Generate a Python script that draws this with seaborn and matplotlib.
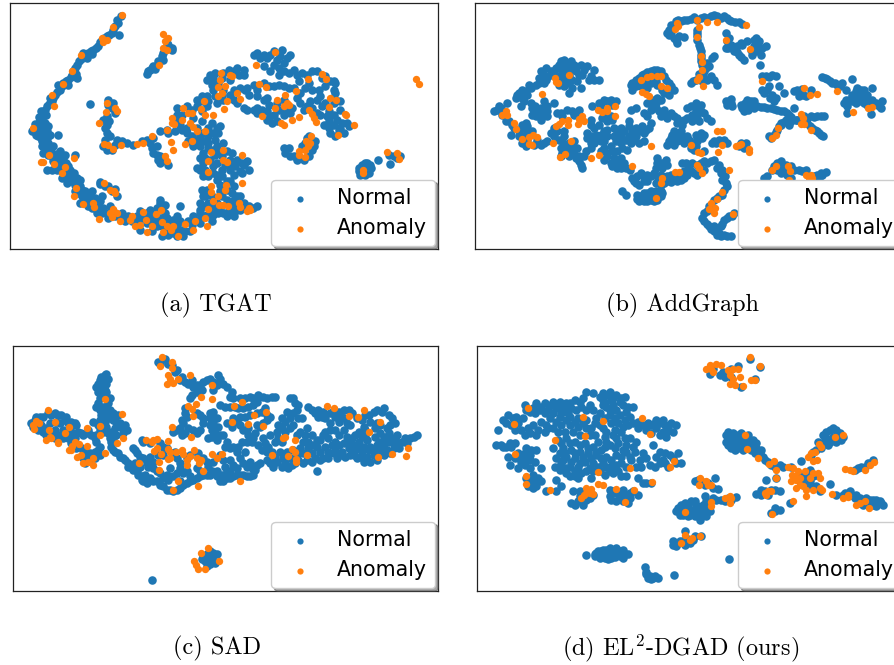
import matplotlib
matplotlib.use("Agg")
import matplotlib.pyplot as plt
import seaborn as sns
import numpy as np

# values, x/y on the 3x crop scale of every panel
tgat_normal = [(362,48),(352,62),(345,80),(358,105),(335,100),(320,110),(305,120),(295,138),(280,150),(265,160),(250,172),(238,185),(225,205),(215,225),(230,235),(205,240),(190,250),(180,270),(165,285),(155,305),(140,320),(130,340),(125,355),(118,370),(105,385),(95,395),(110,400),(125,385),(135,370),(130,405),(115,410),(125,425),(140,415),(175,405),(135,440),(150,450),(145,465),(165,470),(180,455),(225,465),(160,485),(175,495),(190,480),(205,500),(140,510),(195,520),(210,530),(185,535),(200,550),(220,545),(240,560),(235,580),(255,575),(270,590),(250,605),(265,620),(285,595),(300,605),(310,625),(290,640),(320,640),(345,650),(365,640),(385,650),(410,650),(420,635),(440,640),(460,650),(480,655),(500,655),(520,660),(540,665),(440,670),(470,680),(500,695),(520,700),(550,710),(545,690),(575,675),(590,660),(610,650),(630,640),(650,630),(670,640),(700,650),(720,630),(745,620),(770,620),(480,600),(495,615),(470,625),(450,630),(540,620),(300,548),(325,560),(345,568),(350,590),(600,630),(600,610),(605,570),(615,590),(635,590),(650,610),(680,600),(700,600),(720,590),(680,570),(700,560),(680,545),(650,540),(625,530),(600,510),(610,490),(640,500),(665,510),(690,510),(720,515),(745,510),(740,485),(710,480),(695,460),(665,470),(645,465),(610,460),(600,440),(625,430),(650,440),(670,430),(590,420),(610,400),(640,400),(660,380),(635,370),(605,365),(545,390),(560,400),(500,390),(480,395),(530,345),(560,320),(590,320),(620,320),(650,310),(670,300),(640,270),(670,270),(700,270),(720,265),(740,265),(760,255),(790,250),(820,260),(850,260),(880,265),(900,280),(915,265),(935,270),(955,270),(975,260),(1005,250),(620,240),(640,235),(670,220),(700,215),(730,210),(770,160),(790,165),(810,165),(845,150),(870,165),(820,195),(850,190),(850,215),(880,210),(905,220),(935,215),(975,230),(1000,245),(790,200),(710,310),(740,330),(770,325),(800,335),(820,345),(850,345),(815,370),(790,300),(850,300),(875,325),(920,320),(950,300),(965,320),(950,340),(980,350),(1005,280),(1000,310),(1020,330),(1010,360),(1045,380),(985,385),(1015,390),(1005,410),(1025,370),(850,445),(870,470),(890,480),(910,480),(935,450),(945,425),(920,415),(325,300),(340,310),(270,313),(320,350),(320,375),(320,400),(315,420),(350,420),(380,430),(320,450),(440,420),(460,415),(455,445),(470,465),(490,480),(505,495),(1093,490),(1075,505),(1093,508),(1112,505),(1093,525),(1133,482),(1170,493),(1200,470),(1165,465),(1180,470),(445,215),(460,200),(475,192),(490,160),(515,145),(500,130)]
tgat_normal_more = [(355,70),(340,92),(328,105),(312,115),(300,128),(288,145),(272,155),(258,165),(244,178),(232,195),(220,215),(228,222),(212,232),(198,245),(185,260),(172,278),(160,295),(148,312),(135,330),(127,348),(138,345),(120,362),(112,378),(100,390),(118,392),(128,398),(140,395),(108,405),(122,415),(133,428),(145,430),(142,452),(155,460),(158,475),(172,480),(170,462),(185,470),(183,500),(198,490),(210,510),(198,535),(210,545),(225,555),(230,535),(245,570),(262,585),(245,590),(258,598),(275,605),(275,625),(305,590),(295,622),(305,640),(325,655),(340,635),(355,645),(372,655),(395,665),(415,665),(430,655),(450,665),(465,670),(485,680),(510,685),(530,690),(530,675),(555,695),(490,665),(510,670),(470,655),(450,645),(495,640),(485,625),(480,610),(530,710),(505,705),(565,665),(580,650),(600,640),(620,645),(640,645),(655,640),(685,630),(705,635),(735,625),(758,625),(610,620),(625,610),(640,620),(660,625),(690,615),(705,615),(730,610),(610,590),(665,590),(695,580),(710,590),(660,575),(690,545),(665,530),(640,520),(615,510),(610,530),(590,505),(630,480),(650,490),(675,495),(705,500),(730,495),(725,520),(650,525),(600,475),(615,475),(640,450),(655,455),(680,455),(690,480),(625,445),(610,425),(600,405),(625,410),(645,420),(655,400),(625,385),(650,385),(575,410),(560,385),(540,375),(525,395),(505,400),(530,360),(545,345),(575,330),(605,335),(625,305),(645,290),(665,285),(690,285),(620,290),(610,305),(635,255),(655,250),(690,240),(715,225),(730,225),(645,220),(685,210),(710,205),(760,165),(780,175),(800,175),(820,155),(840,170),(860,175),(830,180),(835,205),(865,220),(890,225),(920,225),(950,215),(965,235),(990,245),(925,250),(895,245),(700,300),(735,270),(770,270),(805,260),(835,255),(865,265),(730,325),(760,330),(785,330),(810,350),(835,330),(800,360),(830,365),(855,335),(870,340),(890,295),(900,310),(910,330),(930,305),(960,290),(975,310),(935,325),(985,335),(1000,345),(985,365),(1000,375),(970,375),(1020,385),(1040,370),(990,400),(1000,295),(1020,305),(855,460),(865,445),(880,470),(900,475),(925,470),(930,435),(940,440),(905,440),(915,430),(925,408),(325,315),(335,325),(345,340),(310,360),(328,365),(315,385),(330,410),(345,435),(365,425),(310,440),(335,450),(400,435),(425,425),(450,430),(470,440),(460,460),(480,470),(480,490),(475,480),(300,552),(315,558),(335,575),(1100,490),(1085,495),(1075,515),(1105,520),(1080,525),(1110,495),(1190,475),(455,205),(440,222),(450,212),(465,208),(475,185),(488,180),(505,135),(515,150),(485,170)]
tgat_normal_thin = [(275,162),(262,175),(248,160),(205,255),(175,255),(150,295),(122,335),(118,352),(105,372),(145,378),(150,405),(125,440),(160,440),(130,460),(195,465),(170,510),(155,510),(222,520),(185,515),(240,540),(225,575),(275,575),(240,610),(285,625),(330,620),(375,665),(420,690),(455,695),(485,710),(530,650),(570,695),(600,670),(635,665),(680,650),(620,570),(660,555),(700,525),(725,490),(685,490),(580,440),(565,425),(590,385),(580,355),(530,325),(590,300),(605,290),(630,225),(665,235),(745,285),(770,290),(800,295),(835,225),(810,215),(770,340),(830,310),(805,315),(1000,270),(960,345),(1030,400)]
tgat_anomaly = [(365,46),(340,82),(320,122),(306,115),(310,128),(242,166),(217,213),(188,253),(157,285),(162,320),(100,385),(147,467),(122,487),(128,488),(163,492),(195,502),(187,520),(221,476),(228,566),(222,588),(248,614),(280,610),(282,622),(298,657),(330,640),(340,628),(350,640),(335,652),(360,665),(395,650),(390,660),(405,678),(420,675),(428,638),(437,660),(440,697),(455,680),(468,642),(484,630),(485,668),(500,680),(490,697),(520,680),(512,692),(535,708),(555,672),(585,665),(578,690),(615,655),(625,628),(622,678),(495,468),(500,485),(312,550),(330,572),(345,580),(342,573),(312,433),(325,435),(340,447),(362,436),(410,434),(430,430),(457,410),(512,428),(520,450),(555,433),(575,425),(500,390),(515,370),(522,372),(515,355),(545,362),(550,325),(565,340),(577,340),(603,327),(612,303),(615,345),(640,345),(570,370),(578,382),(590,395),(615,395),(322,310),(345,325),(350,333),(318,338),(298,370),(663,220),(660,240),(690,225),(696,228),(675,260),(655,262),(665,280),(655,290),(680,303),(672,327),(710,280),(718,297),(775,253),(797,263),(767,197),(825,156),(887,275),(855,285),(830,300),(860,310),(825,325),(850,318),(865,315),(785,348),(843,370),(850,375),(875,360),(897,353),(925,330),(935,342),(942,355),(947,367),(985,322),(988,295),(1007,300),(1033,343),(1037,345),(1060,375),(1013,407),(923,238),(965,222),(977,237),(932,410),(918,425),(930,430),(922,440),(915,452),(897,455),(895,465),(915,472),(725,467),(633,457),(625,485),(668,450),(670,480),(680,487),(623,518),(632,558),(633,578),(640,603),(655,590),(675,572),(677,555),(725,550),(668,617),(658,617),(683,620),(715,610),(720,622),(745,625),(740,635),(750,632),(1160,458),(1190,460),(1195,478),(1088,510),(1088,520),(1247,238),(1255,252),(490,103),(505,115),(495,125),(490,145),(500,150),(478,197)]

addgraph_normal = [(665,90),(670,75),(685,65),(700,65),(720,60),(740,52),(760,55),(780,55),(800,45),(820,55),(840,55),(850,65),(875,68),(885,72),(665,105),(680,115),(690,130),(710,112),(750,90),(750,110),(755,135),(760,155),(762,175),(765,195),(770,215),(760,230),(745,240),(730,250),(780,190),(795,175),(800,170),(780,240),(800,240),(810,255),(768,225),(835,100),(845,115),(835,145),(850,135),(860,155),(880,130),(875,165),(890,180),(900,125),(920,120),(930,130),(945,145),(925,155),(910,150),(940,165),(938,195),(945,230),(965,232),(985,228),(945,270),(960,270),(975,285),(980,305),(995,260),(1010,280),(845,305),(840,315),(850,310),(880,315),(895,325),(910,320),(930,320),(950,322),(970,325),(990,330),(1010,335),(1025,345),(1040,325),(1015,360),(1000,370),(1030,365),(1050,360),(1070,350),(1090,350),(1110,350),(1130,348),(1080,370),(1095,385),(1110,395),(1120,405),(990,390),(980,405),(965,410),(1000,375),(890,335),(900,300),(920,305),(1125,232),(1140,238),(1155,250),(1170,255),(1185,250),(1215,238),(1195,270),(1050,270),(1060,280),(1075,290),(1090,270),(1230,265),(1250,280),(1240,295),(1260,300),(1275,265),(1215,285),(1205,300),(1190,310),(1225,310),(1250,310),(1285,310),(1305,303),(1300,325),(1200,340),(1270,342),(1235,295),(1245,290),(350,180),(370,185),(335,195),(355,200),(375,205),(345,215),(295,205),(280,215),(275,235),(295,240),(315,225),(330,245),(350,240),(365,225),(385,215),(400,195),(420,200),(405,225),(440,212),(425,240),(455,242),(390,245),(400,265),(375,265),(350,260),(365,280),(265,255),(245,255),(225,270),(210,285),(225,295),(240,285),(250,310),(262,320),(290,305),(275,335),(265,350),(285,345),(300,335),(320,310),(340,340),(360,330),(395,330),(380,345),(155,320),(140,335),(165,345),(180,310),(185,365),(200,385),(190,405),(220,320),(235,370),(225,385),(240,395),(215,410),(235,440),(255,395),(270,420),(290,430),(310,400),(320,385),(335,420),(350,410),(340,445),(360,440),(380,425),(380,450),(365,470),(340,470),(385,475),(400,495),(405,505),(415,455),(430,430),(445,405),(420,400),(430,360),(435,320),(455,310),(470,300),(490,300),(505,305),(470,345),(490,350),(455,375),(480,390),(500,385),(520,385),(545,380),(565,385),(585,380),(610,370),(600,350),(640,350),(625,310),(650,330),(670,340),(690,355),(710,360),(735,345),(750,350),(770,340),(790,365),(730,320),(750,320),(760,315),(550,330),(565,325),(590,340),(545,365),(460,405),(480,410),(500,410),(520,410),(545,410),(565,410),(590,400),(605,385),(440,430),(470,425),(490,440),(520,430),(550,430),(575,430),(590,425),(460,455),(480,460),(510,455),(540,450),(470,480),(490,490),(510,490),(530,490),(520,505),(548,510),(680,395),(700,395),(720,410),(670,415),(690,425),(660,435),(710,430),(745,405),(770,405),(735,430),(740,450),(770,455),(800,425),(815,420),(840,430),(880,430),(895,430),(628,475),(650,490),(635,500),(655,480),(625,505),(715,490),(735,490),(760,490),(780,490),(800,480),(815,495),(825,510),(832,530),(835,550),(830,570),(815,590),(800,600),(785,620),(770,640),(770,665),(785,680),(800,695),(815,700),(830,705),(850,710),(820,680),(830,660),(845,650),(860,640),(720,510),(740,520),(700,525),(680,540),(660,530),(640,525),(620,520),(600,525),(580,520),(555,535),(565,550),(590,545),(625,550),(650,550),(670,548),(700,540),(720,525),(770,510),(525,575),(535,585),(575,590),(590,580),(610,575),(640,575),(570,598),(590,605),(610,600),(640,590),(600,590),(620,590),(950,535),(975,510),(990,490),(1000,485),(1015,495),(1030,500),(1000,520),(1020,525),(1055,510),(1075,510),(1100,530),(1120,520),(1135,518),(1115,535),(1030,535),(555,250),(575,235),(590,222),(610,215),(630,212),(650,230),(665,250),(680,270),(555,270),(580,260),(600,265),(625,245),(645,270),(665,285),(600,310),(620,300),(550,255),(640,300)]
addgraph_normal_more = [(660,100),(675,85),(692,60),(710,62),(730,58),(750,60),(770,52),(790,50),(810,50),(830,50),(845,60),(863,68),(672,98),(695,110),(685,122),(750,100),(748,122),(758,145),(762,165),(760,185),(775,205),(785,200),(755,222),(738,245),(790,230),(765,245),(840,125),(842,145),(855,145),(868,140),(885,135),(868,158),(882,172),(925,115),(935,125),(920,140),(935,145),(955,140),(915,165),(955,228),(975,225),(950,280),(968,295),(985,295),(965,260),(835,305),(850,298),(855,318),(885,325),(903,330),(920,325),(940,322),(960,325),(980,328),(1000,333),(1020,340),(1030,352),(1045,362),(1060,355),(1080,355),(1100,352),(1120,350),(1025,375),(1010,368),(1088,378),(1103,392),(1115,400),(1128,408),(985,398),(970,415),(995,380),(893,310),(910,305),(1133,235),(1148,245),(1162,250),(1178,260),(1040,275),(1055,290),(1068,285),(1065,268),(1225,275),(1240,270),(1250,270),(1235,285),(1250,300),(1260,285),(1225,295),(1215,305),(1200,320),(1240,305),(1275,300),(1270,320),(1295,320),(1260,315),(1195,300),(340,185),(360,190),(345,205),(365,210),(380,195),(325,205),(310,215),(290,225),(285,235),(300,232),(320,215),(335,230),(355,230),(375,240),(395,225),(345,250),(275,250),(290,250),(335,255),(365,250),(410,210),(430,230),(440,240),(250,265),(235,275),(215,280),(205,295),(230,305),(255,325),(265,335),(280,325),(300,320),(255,345),(280,360),(300,350),(330,340),(345,350),(375,335),(390,340),(150,330),(160,325),(175,365),(195,375),(225,375),(240,380),(215,395),(235,405),(240,420),(225,430),(260,435),(280,435),(300,425),(320,410),(330,395),(350,395),(345,425),(365,430),(375,440),(355,455),(345,460),(375,460),(390,445),(395,470),(395,485),(410,470),(430,445),(450,420),(435,410),(420,415),(440,385),(430,375),(460,320),(480,305),(495,315),(465,355),(480,365),(495,360),(510,395),(530,395),(555,395),(575,395),(595,390),(470,395),(460,425),(505,425),(535,420),(560,420),(470,445),(495,455),(525,445),(480,470),(500,475),(520,475),(495,500),(510,505),(535,505),(610,330),(625,325),(635,335),(655,345),(680,350),(700,365),(720,355),(745,335),(760,335),(780,355),(720,325),(745,310),(660,355),(690,370),(705,375),(735,365),(755,365),(675,405),(690,405),(705,410),(680,435),(700,420),(665,425),(725,420),(750,415),(760,400),(745,440),(750,425),(765,415),(730,445),(805,430),(830,420),(795,430),(875,440),(890,445),(640,490),(645,505),(630,490),(660,495),(705,490),(725,495),(750,495),(770,485),(790,485),(810,505),(820,520),(825,540),(838,560),(825,585),(808,595),(790,620),(778,635),(765,655),(778,672),(792,688),(808,705),(822,710),(840,710),(810,688),(825,672),(838,655),(855,650),(800,680),(710,515),(730,515),(750,525),(710,535),(690,530),(670,525),(650,535),(630,530),(610,530),(590,530),(570,530),(560,545),(575,555),(600,545),(640,555),(660,545),(690,545),(570,585),(585,590),(600,580),(625,575),(575,605),(600,605),(620,605),(630,600),(645,580),(580,595),(610,590),(960,530),(980,500),(1000,505),(1015,510),(990,510),(1040,510),(1065,515),(1110,525),(1125,525),(565,240),(585,225),(600,218),(620,210),(640,215),(655,240),(670,260),(565,260),(590,255),(610,250),(630,255),(650,280),(610,310),(615,320),(630,295),(590,240)]
addgraph_anomaly = [(688,70),(692,78),(683,88),(750,62),(778,66),(808,68),(895,76),(755,82),(748,112),(835,120),(907,148),(760,170),(763,188),(765,210),(755,232),(748,242),(768,258),(945,245),(365,226),(322,235),(325,248),(332,250),(285,284),(175,335),(165,345),(178,345),(200,370),(207,388),(225,417),(245,412),(258,405),(268,413),(245,432),(255,437),(318,430),(370,425),(352,463),(338,473),(432,475),(455,465),(325,380),(335,372),(345,365),(362,362),(362,375),(393,372),(395,358),(405,350),(410,365),(452,332),(465,338),(480,325),(480,335),(502,320),(503,348),(580,240),(598,232),(612,228),(630,228),(640,228),(640,258),(660,265),(585,278),(595,283),(605,290),(612,440),(553,500),(732,435),(752,457),(762,460),(812,457),(808,393),(825,395),(823,437),(865,440),(875,435),(882,432),(905,447),(905,457),(750,495),(755,505),(763,520),(845,510),(682,518),(695,518),(643,535),(640,550),(625,595),(825,577),(808,598),(790,610),(803,625),(785,628),(800,640),(858,643),(1070,265),(1088,285),(1108,283),(1170,273),(1218,338),(1262,325),(1275,323),(1060,342),(1068,355),(1062,373),(1070,373),(993,385),(985,405),(975,415),(1090,390),(975,510),(985,500),(1022,500),(1028,513),(1075,525),(1090,525),(1085,535),(1025,540),(1095,535)]

sad_normal = [(105,255),(120,245),(100,275),(115,285),(130,290),(145,235),(165,235),(185,240),(170,260),(195,255),(215,260),(230,270),(150,265),(190,285),(175,300),(155,295),(210,285),(235,290),(250,300),(265,295),(205,310),(225,310),(240,335),(260,350),(285,350),(300,360),(250,370),(270,375),(300,335),(285,310),(280,260),(300,255),(320,250),(340,255),(360,265),(375,270),(335,290),(350,300),(320,275),(380,285),(300,285),(315,120),(310,135),(295,145),(310,155),(295,170),(305,180),(295,205),(310,215),(300,225),(320,240),(325,130),(320,170),(325,205),(340,235),(355,240),(330,310),(335,335),(345,350),(360,365),(375,375),(385,395),(400,405),(415,420),(400,340),(410,355),(430,370),(445,395),(435,420),(430,440),(450,430),(470,440),(490,455),(510,465),(530,465),(550,450),(570,440),(590,430),(610,420),(630,420),(660,440),(680,430),(700,425),(720,420),(740,425),(760,420),(470,410),(490,430),(520,425),(490,360),(510,400),(540,400),(560,410),(590,400),(625,395),(650,410),(680,410),(700,390),(720,370),(735,350),(740,395),(755,400),(770,390),(800,375),(820,395),(845,395),(865,400),(885,385),(910,385),(935,380),(960,375),(985,370),(1010,370),(1035,365),(1070,370),(1090,380),(1110,380),(1130,375),(1150,360),(1170,355),(1195,340),(1205,320),(1230,310),(1250,300),(1220,325),(1185,310),(1165,320),(1145,330),(1125,345),(1105,345),(1085,350),(1065,345),(1045,340),(1025,350),(1005,345),(985,350),(960,350),(935,355),(910,355),(890,360),(870,370),(850,370),(825,365),(800,350),(785,345),(775,330),(790,310),(810,300),(835,310),(855,290),(835,270),(845,250),(860,230),(880,190),(895,210),(880,235),(905,250),(880,270),(900,290),(920,280),(935,300),(910,320),(940,330),(960,315),(985,310),(975,290),(1005,285),(1030,285),(1050,270),(1030,250),(1015,260),(990,265),(965,245),(945,235),(925,215),(955,225),(990,235),(1015,230),(1045,225),(1070,250),(1095,240),(1120,230),(1150,220),(1165,240),(1185,265),(1160,280),(1140,270),(1110,260),(1090,275),(1075,290),(1095,300),(1075,320),(1055,310),(1125,305),(1150,305),(1180,320),(1130,330),(1040,305),(1005,320),(480,85),(495,70),(515,90),(530,105),(545,125),(555,140),(575,135),(590,150),(575,180),(610,140),(630,130),(655,120),(660,140),(680,155),(640,165),(605,165),(690,185),(720,190),(750,185),(775,180),(800,190),(825,185),(770,200),(745,215),(715,220),(690,215),(660,210),(630,235),(650,250),(630,270),(645,295),(625,310),(660,300),(680,320),(690,340),(710,350),(725,320),(755,320),(765,295),(745,280),(720,270),(700,250),(680,265),(735,245),(770,235),(795,220),(810,245),(790,265),(770,270),(555,220),(560,245),(550,265),(530,285),(555,295),(580,285),(600,285),(610,250),(590,235),(520,290),(425,315),(450,325),(480,325),(500,340),(525,350),(570,360),(595,355),(620,380),(660,360),(690,375),(530,370),(420,395),(450,365),(475,360),(620,660),(635,670),(615,680),(630,690),(645,685),(605,675),(650,660),(640,655),(620,695),(457,736),(950,408)]
sad_normal_more = [(95,265),(110,245),(130,245),(110,265),(125,270),(120,280),(140,280),(155,240),(175,240),(200,245),(180,265),(205,265),(225,265),(165,285),(200,295),(140,300),(165,310),(190,310),(220,295),(245,295),(215,325),(230,340),(250,345),(270,355),(295,345),(260,365),(285,370),(255,385),(290,320),(290,300),(265,285),(295,270),(315,260),(330,250),(350,260),(365,280),(325,295),(340,310),(345,280),(310,290),(370,295),(275,300),(320,115),(305,125),(300,135),(320,145),(300,160),(315,165),(290,155),(300,190),(290,215),(315,225),(305,240),(330,225),(340,250),(330,190),(335,320),(340,345),(355,355),(368,370),(385,385),(395,400),(410,410),(425,425),(405,345),(420,365),(440,385),(460,400),(425,435),(440,445),(460,440),(480,450),(500,465),(520,470),(540,460),(560,445),(580,435),(600,425),(620,420),(650,425),(670,440),(690,430),(710,420),(730,420),(750,425),(480,415),(500,420),(530,415),(550,415),(505,435),(540,440),(570,425),(600,410),(635,410),(665,420),(690,410),(710,400),(730,385),(750,380),(765,405),(780,385),(810,385),(830,380),(855,385),(875,390),(895,375),(920,375),(945,370),(970,370),(1000,355),(1020,360),(1050,360),(1060,360),(1080,365),(1100,365),(1120,360),(1140,345),(1160,345),(1180,340),(1195,325),(1215,310),(1240,305),(1190,300),(1170,305),(1150,320),(1135,320),(1110,335),(1090,335),(1070,335),(1050,325),(1030,325),(1015,330),(995,330),(975,335),(950,335),(925,340),(900,340),(880,345),(860,350),(840,350),(815,350),(805,335),(795,325),(825,320),(845,320),(830,290),(845,280),(855,260),(870,250),(885,205),(870,190),(890,225),(895,250),(870,280),(890,300),(915,300),(925,320),(950,315),(970,300),(990,285),(1015,300),(1040,265),(1020,240),(1005,245),(975,250),(955,245),(935,225),(970,230),(1000,225),(1030,225),(1055,235),(1085,255),(1105,240),(1130,225),(1145,230),(1175,250),(1170,270),(1130,265),(1125,280),(1095,285),(1085,305),(1100,315),(1065,300),(1065,330),(1140,295),(1165,295),(1150,340),(475,80),(505,85),(525,110),(540,135),(565,145),(580,155),(590,170),(600,150),(620,135),(640,140),(660,130),(650,150),(670,145),(695,170),(700,190),(735,190),(760,190),(790,185),(815,185),(760,210),(730,220),(705,215),(675,215),(640,230),(630,250),(640,265),(655,275),(635,285),(635,305),(650,315),(670,300),(675,335),(700,335),(715,335),(740,320),(745,300),(760,310),(730,285),(710,260),(695,275),(720,245),(750,240),(785,230),(800,240),(800,255),(780,275),(555,235),(545,255),(540,280),(565,280),(545,300),(590,295),(610,265),(600,240),(570,190),(430,320),(490,335),(515,355),(560,370),(610,370),(640,380),(670,375),(675,395),(540,385),(460,380),(405,385),(625,665),(640,680),(625,680),(610,665),(630,650)]
sad_anomaly = [(485,65),(480,93),(515,80),(515,97),(570,120),(505,118),(510,130),(533,132),(500,145),(518,143),(635,148),(603,186),(635,192),(587,207),(565,212),(575,222),(580,243),(145,226),(108,258),(118,265),(100,270),(103,283),(148,285),(167,262),(207,276),(197,294),(262,278),(302,273),(302,300),(315,192),(365,238),(150,305),(140,315),(155,310),(175,320),(175,325),(225,320),(237,327),(218,332),(262,333),(207,345),(213,345),(232,365),(245,360),(280,370),(265,380),(250,385),(280,390),(352,323),(368,310),(317,355),(437,316),(458,316),(470,312),(457,322),(503,318),(472,340),(462,347),(483,357),(505,342),(510,350),(527,350),(545,345),(548,358),(582,345),(570,362),(562,375),(510,368),(505,372),(477,380),(417,385),(478,405),(560,390),(590,370),(603,375),(597,383),(610,410),(635,358),(652,368),(667,358),(535,438),(520,466),(595,455),(720,438),(517,277),(572,307),(697,262),(745,267),(763,241),(790,273),(797,231),(702,212),(725,202),(855,305),(850,310),(885,316),(875,342),(885,352),(815,360),(863,362),(887,372),(887,382),(920,360),(980,214),(1002,218),(1045,242),(1072,247),(1090,226),(1140,262),(1106,292),(1133,365),(1175,358),(1223,340),(1218,362),(623,640),(603,655),(582,680),(588,692),(595,703),(615,703),(657,681)]

ours_normal = [(420,170),(440,175),(470,175),(490,170),(510,180),(535,185),(470,195),(495,195),(520,200),(480,215),(545,215),(560,215),(410,190),(385,195),(360,205),(340,200),(320,200),(295,205),(270,205),(235,210),(250,230),(280,225),(305,225),(330,220),(355,225),(375,220),(405,215),(430,210),(440,225),(460,235),(490,240),(520,240),(550,245),(575,260),(605,265),(630,255),(650,255),(665,275),(690,270),(680,290),(650,290),(630,280),(600,285),(660,305),(575,280),(545,270),(515,265),(495,265),(470,280),(445,265),(420,255),(395,250),(370,245),(340,245),(310,250),(285,260),(260,270),(230,250),(210,245),(185,240),(170,255),(195,270),(225,285),(250,295),(270,300),(295,290),(320,280),(345,270),(370,270),(395,275),(420,280),(445,300),(475,305),(500,300),(525,290),(550,310),(570,320),(540,330),(515,325),(490,330),(465,345),(440,335),(415,325),(385,320),(360,310),(335,315),(350,340),(375,345),(400,350),(425,355),(450,360),(480,365),(510,360),(540,350),(565,350),(590,355),(620,330),(640,350),(650,375),(670,360),(695,355),(705,385),(665,395),(640,385),(610,390),(585,395),(555,375),(525,385),(495,395),(470,385),(440,385),(415,380),(385,370),(360,365),(340,355),(320,340),(325,395),(345,385),(370,395),(395,395),(420,410),(360,415),(385,425),(435,430),(460,410),(490,410),(515,410),(540,425),(575,430),(600,445),(615,445),(490,465),(510,475),(530,465),(550,475),(575,480),(490,485),(510,500),(530,500),(550,490),(375,505),(395,500),(410,510),(430,490),(400,470),(380,470),(345,455),(330,470),(300,470),(285,440),(260,420),(240,430),(250,445),(270,455),(330,435),(285,400),(155,285),(150,330),(170,335),(190,325),(205,325),(185,365),(215,355),(230,370),(250,360),(270,345),(240,340),(265,380),(235,390),(190,390),(215,400),(250,400),(790,115),(830,110),(855,100),(875,92),(820,120),(885,155),(910,70),(925,130),(940,95),(840,300),(860,295),(885,295),(905,300),(840,320),(860,320),(885,320),(910,320),(930,325),(855,340),(880,340),(905,340),(930,340),(945,345),(925,355),(950,365),(965,380),(985,395),(1010,395),(1035,395),(1130,300),(1150,285),(1170,285),(1190,305),(1170,320),(1150,320),(1130,325),(1115,320),(1125,340),(1110,345),(1095,360),(1060,420),(1090,405),(1110,420),(1090,440),(1070,430),(1110,455),(1120,470),(1065,378),(1150,447),(960,435),(990,430),(945,465),(930,478),(955,470),(975,465),(1000,470),(1245,395),(1265,385),(1280,375),(1225,405),(1170,480),(1190,480),(1210,470),(1225,490),(1240,490),(1260,490),(1280,495),(1300,500),(1310,510),(1290,515),(1265,510),(1240,505),(985,520),(975,535),(1000,525),(1030,505),(745,440),(765,440),(785,445),(805,430),(815,462),(800,460),(760,445),(695,520),(715,505),(735,500),(750,510),(770,510),(690,530),(710,540),(730,540),(750,535),(770,530),(790,530),(760,555),(780,545),(775,485),(800,490),(825,495),(845,490),(870,488),(680,620),(700,620),(720,610),(740,615),(765,605),(690,635),(715,630),(715,590),(420,663),(450,655),(470,645),(490,640),(510,640),(530,645),(545,660),(530,670),(505,668),(485,675),(460,670),(595,698),(600,720),(620,730),(635,730),(683,722),(848,674),(610,725),(470,660),(495,655),(515,655)]
ours_normal_more = [(480,180),(500,190),(525,190),(460,185),(475,205),(500,210),(530,210),(490,225),(510,225),(540,230),(400,200),(370,205),(345,215),(315,210),(285,215),(260,220),(240,225),(265,235),(295,235),(320,235),(345,235),(365,235),(390,225),(420,225),(450,250),(475,250),(505,250),(535,255),(590,270),(615,270),(640,265),(655,270),(675,265),(660,290),(640,300),(615,295),(625,265),(560,265),(530,275),(505,285),(480,290),(460,270),(435,280),(410,265),(385,260),(360,255),(330,260),(300,270),(275,285),(245,280),(215,265),(200,250),(180,265),(205,285),(235,300),(305,280),(335,290),(355,290),(380,290),(400,300),(430,300),(455,320),(480,320),(510,310),(535,310),(560,335),(530,345),(505,340),(475,335),(450,350),(425,340),(400,330),(370,325),(345,325),(355,355),(385,355),(410,365),(435,370),(465,370),(495,375),(525,365),(550,365),(580,375),(600,370),(630,365),(655,355),(680,370),(690,385),(655,385),(625,395),(570,395),(540,395),(510,390),(480,395),(455,395),(430,400),(400,385),(375,380),(350,375),(330,370),(340,405),(360,400),(385,410),(405,415),(370,425),(395,430),(440,410),(475,420),(500,415),(525,425),(590,445),(500,470),(520,480),(540,480),(560,470),(495,495),(520,490),(545,505),(385,510),(400,485),(420,495),(440,480),(255,430),(270,440),(245,455),(275,430),(260,460),(165,330),(180,335),(195,335),(215,365),(235,355),(250,375),(255,345),(225,380),(240,375),(205,370),(470,210),(800,100),(835,125),(855,125),(845,290),(870,300),(895,305),(850,310),(875,310),(895,315),(920,315),(845,330),(870,330),(895,330),(920,330),(865,345),(890,345),(915,345),(940,355),(955,375),(975,390),(1000,390),(1140,290),(1160,280),(1180,295),(1185,315),(1160,305),(1140,310),(1145,330),(1120,330),(1135,315),(1100,350),(1075,420),(1100,425),(1080,450),(1095,455),(1060,440),(945,480),(965,480),(985,465),(1255,395),(1235,400),(1195,475),(1215,480),(1230,480),(1250,495),(1270,495),(1290,495),(1305,505),(1280,510),(1250,510),(985,530),(705,510),(725,510),(745,500),(760,520),(700,525),(720,525),(740,525),(760,530),(780,525),(700,540),(725,545),(745,545),(765,545),(785,510),(780,500),(810,495),(835,500),(855,495),(755,435),(775,450),(680,630),(695,625),(710,620),(730,625),(745,605),(445,660),(455,650),(480,645),(500,645),(520,650),(535,660),(520,665),(495,670),(475,670),(445,665),(465,650),(480,660),(505,655),(530,655),(600,712),(605,730),(625,725),(615,735)]
ours_anomaly = [(780,100),(790,88),(810,85),(825,88),(800,110),(795,100),(845,105),(860,100),(850,120),(860,130),(850,145),(865,148),(880,125),(890,152),(875,100),(912,66),(940,93),(915,133),(925,133),(245,220),(202,266),(327,316),(205,358),(410,246),(470,257),(415,303),(588,250),(610,296),(550,399),(682,378),(670,397),(456,413),(455,447),(470,452),(420,460),(435,462),(420,475),(440,477),(430,476),(405,490),(412,482),(510,462),(563,466),(535,503),(310,467),(238,425),(238,447),(618,443),(760,430),(758,450),(780,440),(795,450),(785,450),(715,533),(793,515),(795,503),(835,490),(850,485),(855,490),(850,505),(715,600),(730,615),(738,610),(760,604),(703,626),(897,300),(902,343),(935,368),(967,387),(983,378),(990,405),(988,430),(1025,395),(1040,400),(1037,420),(1035,440),(1055,410),(1075,410),(1050,435),(1060,450),(1050,460),(1070,455),(1080,465),(1090,430),(1100,415),(1115,415),(1120,460),(1128,465),(1080,483),(1100,465),(1120,430),(1060,430),(1045,425),(965,470),(955,475),(975,468),(958,482),(1040,498),(978,538),(1165,307),(1190,300),(1118,327),(1125,337),(1105,352),(1095,355),(1085,367),(1100,378),(1112,375),(1197,403),(1210,407),(1220,408),(1255,405),(1270,390),(1282,380),(1158,477),(1190,490),(1205,480),(1205,488),(1255,500),(1240,505),(1230,512),(1267,520)]

captions = ["(a) TGAT", "(b) AddGraph", "(c) SAD", r"(d) EL$^2$-DGAD (ours)"]

W, H = 894, 665
plt.rcParams['mathtext.fontset'] = 'cm'
fig = plt.figure(figsize=(W / 100, H / 100), dpi=100)

# panel: normal, anomaly, caption, axes box in px, crop limits, caption centre px
panels = [
    (tgat_normal + tgat_normal_more + tgat_normal_thin, tgat_anomaly, captions[0], (10, 3, 438, 249), (30, 1313, 748, 10), (216, 305)),
    (addgraph_normal + addgraph_normal_more, addgraph_anomaly, captions[1], (475, 3, 905, 249), (83, 1373, 748, 10), (682, 305)),
    (sad_normal + sad_normal_more, sad_anomaly, captions[2], (13, 346, 438, 591), (40, 1313, 770, 32), (217, 648)),
    (ours_normal + ours_normal_more, ours_anomaly, captions[3], (477, 346, 905, 591), (92, 1376, 770, 32), (681, 648)),
]

for normal, anomaly, caption, box, lims, centre in panels:
    x0, y0, x1, y1 = box
    ax = fig.add_axes([x0 / W, 1 - y1 / H, (x1 - x0) / W, (y1 - y0) / H])
    normal = np.array(normal)
    anomaly = np.array(anomaly)
    sns.scatterplot(x=normal[:, 0], y=normal[:, 1], ax=ax, s=38, color='#1f77b4', linewidth=0, label='Normal')
    sns.scatterplot(x=anomaly[:, 0], y=anomaly[:, 1], ax=ax, s=28, color='#ff7f0e', linewidth=0, label='Anomaly')
    ax.set_xlim(lims[0], lims[1])
    ax.set_ylim(lims[2], lims[3])
    ax.set_xticks([])
    ax.set_yticks([])
    for s in ax.spines.values():
        s.set_linewidth(0.9)
        s.set_color('#222222')
    leg = ax.legend(loc='lower right', fontsize=14.8, shadow=True, labelspacing=0.5,
                    bbox_to_anchor=(1 - 0.5 / (x1 - x0), 0.5 / (y1 - y0)), borderaxespad=0.1)
    for h in leg.legend_handles:
        h.set_sizes([20])
    fig.text(centre[0] / W, 1 - centre[1] / H, caption, family='cmr10', fontsize=17.5, ha='center', va='center')

fig.savefig('out.png', dpi=100)
